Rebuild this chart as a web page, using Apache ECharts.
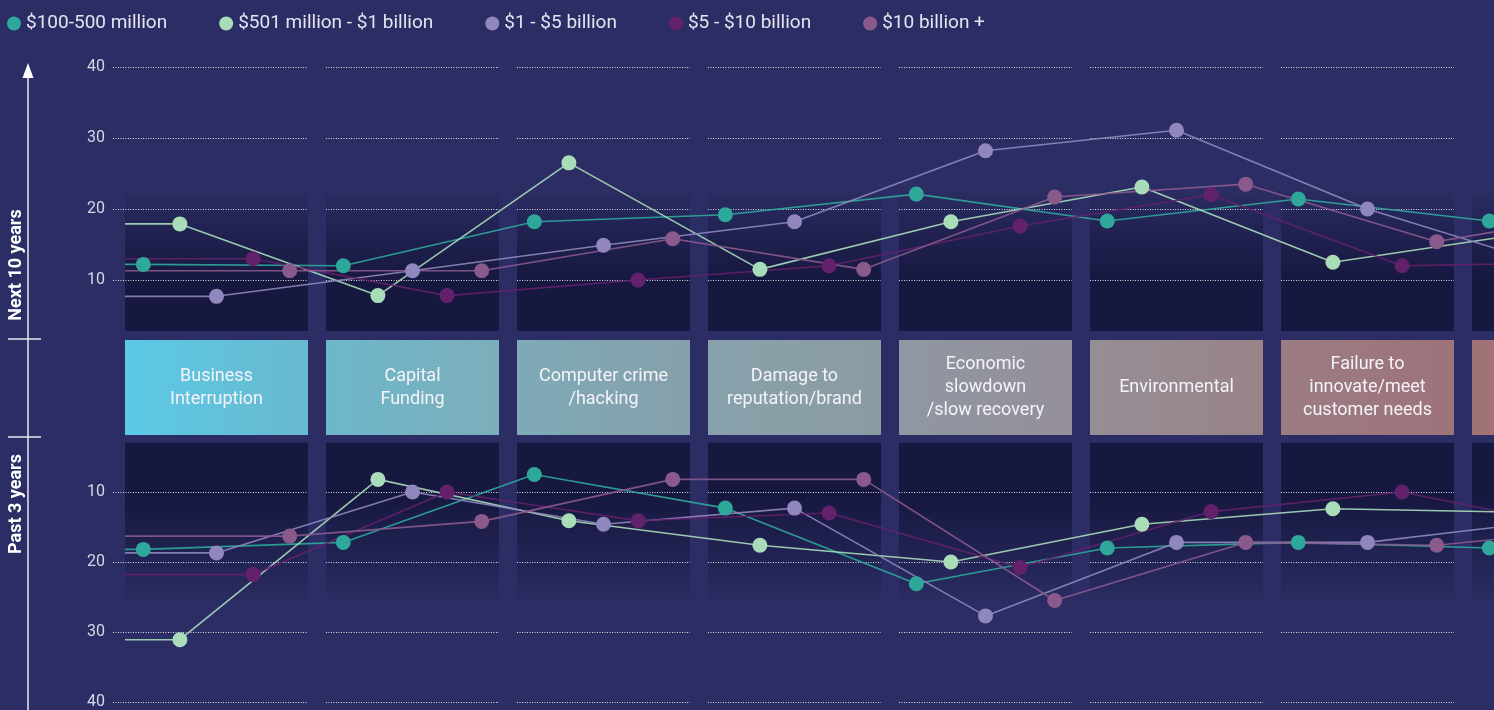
<!DOCTYPE html>
<html>
<head>
<meta charset="utf-8">
<script src="https://cdn.jsdelivr.net/npm/echarts@6/dist/echarts.min.js"></script>
<style>
  html, body { margin: 0; padding: 0; background: #2b2d64; }
  #chart { width: 1494px; height: 710px; }
</style>
</head>
<body>
<div id="chart"></div>
<script>
// risk categories (last one is cut off at the right edge)
const categories = [
  'Business\nInterruption',
  'Capital\nFunding',
  'Computer crime\n/hacking',
  'Damage to\nreputation/brand',
  'Economic\nslowdown\n/slow recovery',
  'Environmental',
  'Failure to\ninnovate/meet\ncustomer needs',
  'Increasing\ncompetition'
];
const seriesNames = ['$100-500 million', '$501 million - $1 billion', '$1 - $5 billion', '$5 - $10 billion', '$10 billion +'];
const yTicks = [10, 20, 30, 40];

// Next 10 years
const next100to500 = [12.2, 12.0, 18.2, 19.2, 22.1, 18.3, 21.4, 18.3];
const next501to1b  = [17.9, 7.8, 26.5, 11.5, 18.2, 23.1, 12.5, 16.5];
const next1to5b    = [7.7, 11.3, 14.9, 18.2, 28.2, 31.1, 20.0, 11.7];
const next5to10b   = [13.0, 7.8, 10.0, 12.0, 17.6, 22.0, 12.0, 12.5];
const next10bPlus  = [11.3, 11.3, 15.8, 11.5, 21.7, 23.5, 15.4, 20.0];

// Past 3 years
const past100to500 = [18.2, 17.2, 7.5, 12.3, 23.1, 18.0, 17.2, 18.0];
const past501to1b  = [31.1, 8.2, 14.1, 17.6, 20.0, 14.6, 12.4, 12.9];
const past1to5b    = [18.7, 10.0, 14.6, 12.3, 27.7, 17.2, 17.2, 14.0];
const past5to10b   = [21.8, 10.0, 14.1, 13.0, 20.8, 12.8, 10.0, 15.5];
const past10bPlus  = [16.3, 14.2, 8.2, 8.2, 25.5, 17.2, 17.6, 14.9];

const colors = ['#2ea89b', '#a9dcb9', '#8f87bd', '#63216b', '#8b5a8d'];
const boxColors = [
  ['#5bc9e6', '#69b9cf'], ['#6db7ca', '#7caebb'], ['#7eaab8', '#86a0aa'],
  ['#88a2ab', '#8b9ba4'], ['#8f97a3', '#958f99'], ['#968e96', '#998389'],
  ['#9b7c83', '#9e737a'], ['#a07377', '#a27176']
];

// column layout along the x axis (axis units = px)
function colLeft(i) { return i === 0 ? 125 : 326 + (i - 1) * 191; }
function colW(i) { return i === 0 ? 183 : 173; }
function dotX(i, s) { return colLeft(i) + (s + 0.5) * colW(i) / 5; }

function lineData(values, s) {
  const d = [{ value: [colLeft(0), values[0]], symbol: 'none' }];
  values.forEach((v, i) => d.push([dotX(i, s), v]));
  return d;
}

function gridLines() {
  const out = [];
  yTicks.forEach(t => {
    categories.forEach((c, i) => {
      const x1 = i === 0 ? 113 : colLeft(i);
      out.push([{ coord: [x1, t] }, { coord: [colLeft(i) + colW(i), t] }]);
    });
  });
  return out;
}

function bgRender(topVal, botVal, stops) {
  return function (params, api) {
    const i = api.value(0);
    const a = api.coord([colLeft(i), topVal]);
    const b = api.coord([colLeft(i) + colW(i), botVal]);
    return {
      type: 'rect',
      shape: { x: a[0], y: Math.min(a[1], b[1]), width: b[0] - a[0], height: Math.abs(b[1] - a[1]) },
      style: { fill: new echarts.graphic.LinearGradient(0, 0, 0, 1, stops) }
    };
  };
}

const topStops = [
  { offset: 0, color: 'rgba(23,24,64,0)' },
  { offset: 0.35, color: 'rgba(23,24,64,0.6)' },
  { offset: 0.65, color: 'rgba(23,24,64,1)' },
  { offset: 1, color: 'rgba(23,24,64,1)' }
];
const botStops = [
  { offset: 0, color: 'rgba(23,24,64,1)' },
  { offset: 0.32, color: 'rgba(23,24,64,1)' },
  { offset: 0.62, color: 'rgba(23,24,64,0.6)' },
  { offset: 1, color: 'rgba(23,24,64,0)' }
];

const FONT = 'Roboto, "Noto Sans", sans-serif';
const colData = categories.map((c, i) => [i, 0]);

const markLineCfg = {
  silent: true,
  symbol: 'none',
  animation: false,
  label: { show: false },
  lineStyle: { color: 'rgba(255,255,255,0.85)', width: 1, type: [1, 1.5] },
  data: gridLines()
};

const nextSets = [next100to500, next501to1b, next1to5b, next5to10b, next10bPlus];
const pastSets = [past100to500, past501to1b, past1to5b, past5to10b, past10bPlus];

function lineSeries(sets, axisIdx) {
  return sets.map((vals, s) => ({
    name: seriesNames[s],
    type: 'line',
    xAxisIndex: axisIdx,
    yAxisIndex: axisIdx,
    data: lineData(vals, s),
    symbol: 'circle',
    symbolSize: 15,
    color: colors[s],
    lineStyle: { width: 1.6, color: colors[s], opacity: 0.9 },
    itemStyle: { color: colors[s] },
    emphasis: { disabled: true },
    z: 5
  }));
}

const xAxisBase = { type: 'value', min: 113, max: 1494, show: false };
const yLabel = {
  color: '#d6d6e4', fontSize: 16, fontFamily: FONT, margin: 8,
  formatter: v => (v === 0 ? '' : v)
};

const option = {
  backgroundColor: '#2b2d64',
  animation: false,
  legend: {
    data: seriesNames,
    left: 2,
    top: 9,
    icon: 'circle',
    itemWidth: 14,
    itemHeight: 14,
    itemGap: 52,
    textStyle: { color: '#e4e4f0', fontSize: 19, fontFamily: FONT }
  },
  grid: [
    { left: 113, right: 0, top: 67, height: 284 },
    { left: 113, right: 0, top: 422, height: 284 },
    { left: 113, right: 0, top: 340, height: 95 }
  ],
  xAxis: [
    Object.assign({ gridIndex: 0 }, xAxisBase),
    Object.assign({ gridIndex: 1 }, xAxisBase),
    Object.assign({ gridIndex: 2 }, xAxisBase)
  ],
  yAxis: [
    { gridIndex: 0, type: 'value', min: 0, max: 40, interval: 10,
      axisLine: { show: false }, axisTick: { show: false }, splitLine: { show: false }, axisLabel: yLabel },
    { gridIndex: 1, type: 'value', min: 0, max: 40, interval: 10, inverse: true,
      axisLine: { show: false }, axisTick: { show: false }, splitLine: { show: false }, axisLabel: yLabel },
    { gridIndex: 2, type: 'value', min: 0, max: 1, show: false }
  ],
  series: [
    {
      type: 'custom', xAxisIndex: 0, yAxisIndex: 0, silent: true, z: 1,
      renderItem: bgRender(23, 2.8, topStops), data: colData, markLine: markLineCfg
    },
    {
      type: 'custom', xAxisIndex: 1, yAxisIndex: 1, silent: true, z: 1,
      renderItem: bgRender(2.96, 26, botStops), data: colData, markLine: markLineCfg
    },
    {
      type: 'custom', xAxisIndex: 2, yAxisIndex: 2, silent: true, z: 1,
      data: colData,
      renderItem: function (params, api) {
        const i = api.value(0);
        const a = api.coord([colLeft(i), 1]);
        const b = api.coord([colLeft(i) + colW(i), 0]);
        return {
          type: 'group',
          children: [
            {
              type: 'rect',
              shape: { x: a[0], y: a[1], width: b[0] - a[0], height: b[1] - a[1] },
              style: { fill: new echarts.graphic.LinearGradient(0, 0, 1, 0, [
                { offset: 0, color: boxColors[i][0] }, { offset: 1, color: boxColors[i][1] }]) }
            },
            {
              type: 'text',
              x: (a[0] + b[0]) / 2,
              y: (a[1] + b[1]) / 2,
              style: {
                text: categories[i], fill: '#f4f4f8', fontSize: 18, fontFamily: FONT,
                lineHeight: 23, align: 'center', verticalAlign: 'middle'
              }
            }
          ]
        };
      }
    }
  ].concat(lineSeries(nextSets, 0), lineSeries(pastSets, 1)),
  graphic: [
    { type: 'line', shape: { x1: 28, y1: 74, x2: 28, y2: 710 }, style: { stroke: '#e8e8f2', lineWidth: 1.5 } },
    { type: 'polygon', shape: { points: [[28, 63], [22.5, 78], [33.5, 78]] }, style: { fill: '#ffffff' } },
    { type: 'line', shape: { x1: 8, y1: 339, x2: 41, y2: 339 }, style: { stroke: '#e8e8f2', lineWidth: 1.5 } },
    { type: 'line', shape: { x1: 8, y1: 437, x2: 41, y2: 437 }, style: { stroke: '#e8e8f2', lineWidth: 1.5 } },
    { type: 'text', x: 16, y: 265, rotation: Math.PI / 2,
      style: { text: 'Next 10 years', fill: '#ffffff', font: 'bold 18px ' + FONT, align: 'center', verticalAlign: 'middle' } },
    { type: 'text', x: 16, y: 504, rotation: Math.PI / 2,
      style: { text: 'Past 3 years', fill: '#ffffff', font: 'bold 18px ' + FONT, align: 'center', verticalAlign: 'middle' } }
  ]
};

const myChart = echarts.init(document.getElementById('chart'));
myChart.setOption(option);
</script>
</body>
</html>
